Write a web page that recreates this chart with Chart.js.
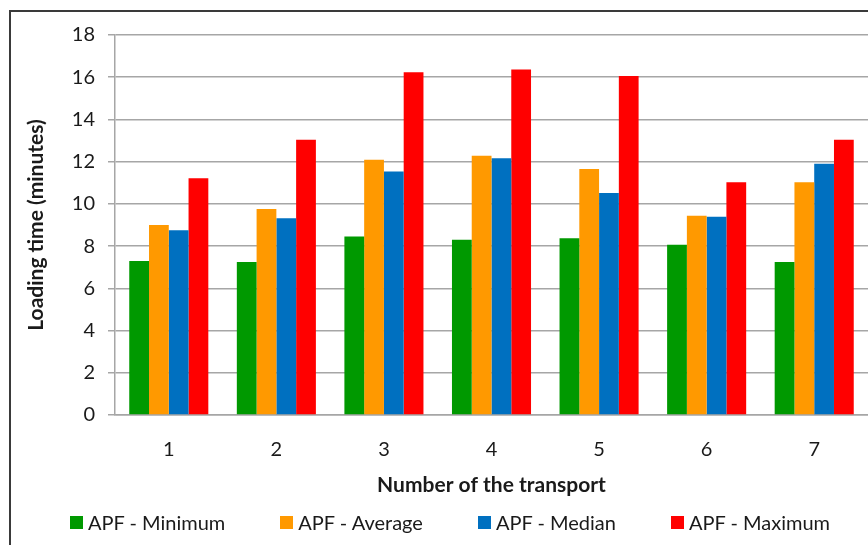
<!DOCTYPE html>
<html>
<head>
<meta charset="utf-8">
<script src="https://cdn.jsdelivr.net/npm/chart.js@4"></script>
<style>
  html, body { margin: 0; padding: 0; background: #fff; overflow: hidden; }
  #wrap { position: relative; width: 868px; height: 545px; overflow: hidden; }
  #frame { position: absolute; left: 9px; top: 10px; width: 900px; height: 600px;
           border: 2px solid #3a3a3a; box-sizing: border-box; }
  canvas { position: absolute; left: 0; top: 0; }
  #legend { position: absolute; left: 0; top: 509px; width: 900px; height: 26px;
            display: flex; justify-content: center; align-items: center; gap: 55px;
            font-family: Lato, "Open Sans", sans-serif; font-size: 20px; color: #1a1a1a; }
  #legend .item { display: flex; align-items: center; white-space: nowrap; }
  #legend .sw { width: 13px; height: 13px; margin-right: 5px; }
</style>
</head>
<body>
<div id="wrap">
  <div id="frame"></div>
  <canvas id="c" width="868" height="545"></canvas>
  <div id="legend"></div>
</div>
<script>
// Loading time per transport, in minutes
const categories = ['1', '2', '3', '4', '5', '6', '7'];
const seriesNames = ['APF - Minimum', 'APF - Average', 'APF - Median', 'APF - Maximum'];
const apfMinimum = [7.3, 7.25, 8.45, 8.3, 8.37, 8.07, 7.25];
const apfAverage = [9.0, 9.76, 12.09, 12.28, 11.65, 9.44, 11.02];
const apfMedian  = [8.75, 9.32, 11.53, 12.16, 10.52, 9.39, 11.9];
const apfMaximum = [11.21, 13.04, 16.23, 16.36, 16.06, 11.02, 13.04];
const yTicks = [0, 2, 4, 6, 8, 10, 12, 14, 16, 18];

const colors = ['#009900', '#ff9900', '#0070c0', '#ff0000'];
const values = [apfMinimum, apfAverage, apfMedian, apfMaximum];

const FONT = 'Lato, "Open Sans", sans-serif';
const TEXT = '#1a1a1a';

// Builds the legend below the chart from the chart's own datasets
const htmlLegend = {
  id: 'htmlLegend',
  afterUpdate(chart) {
    const box = document.getElementById('legend');
    box.innerHTML = '';
    chart.data.datasets.forEach(ds => {
      const item = document.createElement('span');
      item.className = 'item';
      const sw = document.createElement('span');
      sw.className = 'sw';
      sw.style.background = ds.backgroundColor;
      const txt = document.createElement('span');
      txt.textContent = ds.label;
      item.appendChild(sw);
      item.appendChild(txt);
      box.appendChild(item);
    });
  }
};

new Chart(document.getElementById('c'), {
  type: 'bar',
  data: {
    labels: categories,
    datasets: seriesNames.map((name, i) => ({
      label: name,
      data: values[i],
      backgroundColor: colors[i],
      borderWidth: 0,
      categoryPercentage: 0.735,
      barPercentage: 1.0
    }))
  },
  plugins: [htmlLegend],
  options: {
    responsive: false,
    animation: false,
    devicePixelRatio: 1,
    layout: { padding: { left: 24, right: 0, top: 35, bottom: 47 } },
    plugins: {
      tooltip: { enabled: false },
      legend: { display: false }
    },
    scales: {
      x: {
        afterFit: (scale) => { scale.height = 83; },
        grid: { display: false, drawTicks: false },
        border: { color: '#a6a6a6', width: 1.5 },
        ticks: { font: { family: FONT, size: 20 }, color: TEXT, padding: 23, maxRotation: 0 },
        title: {
          display: true,
          text: 'Number of the transport',
          font: { family: FONT, size: 21, weight: 'bold' },
          color: TEXT,
          padding: { top: 0, bottom: 0 }
        }
      },
      y: {
        min: 0,
        max: 18,
        afterBuildTicks: (scale) => { scale.ticks = yTicks.map(v => ({ value: v })); },
        afterFit: (scale) => { scale.width = 91; },
        grid: { color: '#a6a6a6', lineWidth: 1.5, tickLength: 7, tickColor: '#a6a6a6' },
        border: { color: '#a6a6a6', width: 1.5 },
        ticks: { font: { family: FONT, size: 20 }, color: TEXT, padding: 13 },
        title: {
          display: true,
          text: 'Loading time (minutes)',
          font: { family: FONT, size: 21, weight: 'bold' },
          color: TEXT,
          padding: { top: 0, bottom: 0 }
        }
      }
    }
  }
});
</script>
</body>
</html>
